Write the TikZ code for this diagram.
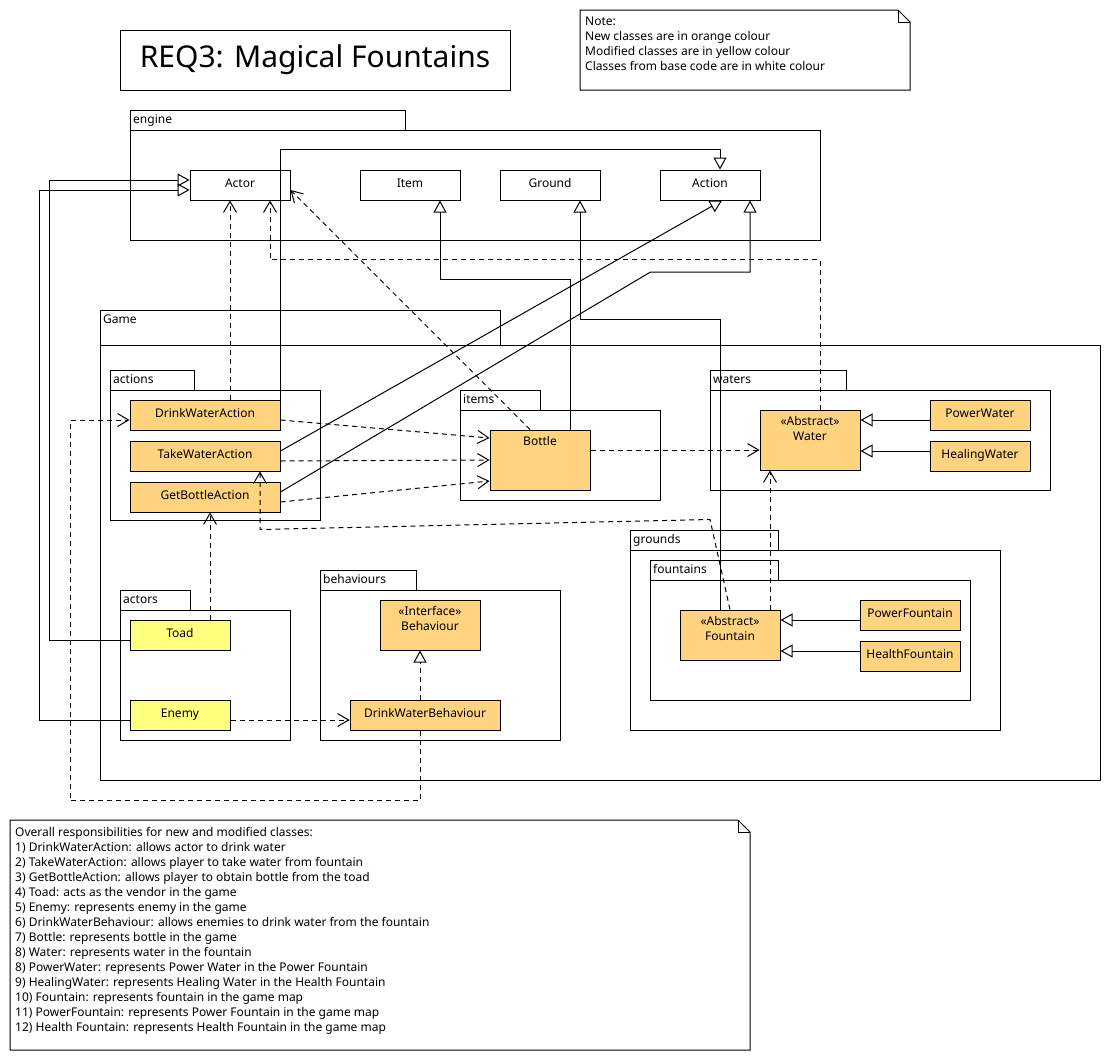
\documentclass[tikz,border=0pt]{standalone}
\usepackage{fontspec}
\setmainfont{Noto Sans}
\usepackage{xcolor}
\usetikzlibrary{arrows.meta, positioning, calc}
\definecolor{neworange}{HTML}{FFD37F}
\definecolor{modyellow}{HTML}{FFFF80}
\tikzset{
  classbox/.style={
    rectangle, draw=black, line width=1pt, fill=white,
    minimum width=100pt, minimum height=30pt, inner sep=0pt,
    text height=9pt, text depth=4pt,
    align=center, font=\fontsize{12}{15}\selectfont
  },
  newclass/.style={classbox, fill=neworange},
  modclass/.style={classbox, fill=modyellow},
  toptext/.style={anchor=north, yshift=-7pt, inner sep=0pt, align=center,
    font=\fontsize{12}{15}\selectfont},
  pkglabel/.style={anchor=west, xshift=3pt, yshift=-11pt, inner sep=0pt,
    text height=8pt, text depth=2.5pt, font=\fontsize{12}{15}\selectfont},
  pkgtab/.style={rectangle, draw=black, line width=1pt, anchor=north west,
    inner sep=0pt, minimum height=20pt},
  pkgbody/.style={rectangle, draw=black, line width=1pt, anchor=north west,
    inner sep=0pt},
  notetext/.style={anchor=north west, inner sep=0pt, align=left,
    font=\fontsize{12}{15}\selectfont},
  notebox/.style={draw=black, line width=1pt},
  dep/.style={line width=1pt, dash pattern=on 5pt off 4pt,
    -{Straight Barb[length=11pt, width=13pt, line width=1pt]}},
  gen/.style={line width=1pt,
    -{Triangle[open, length=12pt, width=13pt, line width=1pt]}},
  real/.style={gen, dash pattern=on 5pt off 4pt}
}
\begin{document}
\begin{tikzpicture}[x=1pt, y=-1pt]
  \useasboundingbox (0,0) rectangle (1110,1060);

  % title and legend
  \node[rectangle, draw=black, line width=1pt, minimum width=390pt, minimum height=60pt,
    font=\fontsize{30}{34}\selectfont] (title) at (315,60) {REQ3: Magical Fountains};
  \draw[notebox] (580,10) -- (898,10) -- (910,22) -- (910,90) -- (580,90) -- cycle;
  \draw[notebox] (898,10) -- (898,22) -- (910,22);
  \node[notetext] (legend) at (585,17) {Note:\\New classes are in orange colour\\
    Modified classes are in yellow colour\\Classes from base code are in white colour};

  % packages
  \node[pkgtab, minimum width=275pt, label={[pkglabel]north west:engine}] (engineTab) at (130,110) {};
  \node[pkgbody, minimum width=690pt, minimum height=110pt] (engineBody) at (130,130) {};
  \node[pkgtab, minimum width=400pt, minimum height=35pt, label={[pkglabel]north west:Game}] (gameTab) at (100,310) {};
  \node[pkgbody, minimum width=1000pt, minimum height=435pt] (gameBody) at (100,345) {};
  \node[pkgtab, minimum width=84pt, label={[pkglabel]north west:actions}] (actionsTab) at (110,370) {};
  \node[pkgbody, minimum width=210pt, minimum height=130pt] (actionsBody) at (110,390) {};
  \node[pkgtab, minimum width=80pt, label={[pkglabel]north west:items}] (itemsTab) at (460,390) {};
  \node[pkgbody, minimum width=200pt, minimum height=90pt] (itemsBody) at (460,410) {};
  \node[pkgtab, minimum width=136pt, label={[pkglabel]north west:waters}] (watersTab) at (710,370) {};
  \node[pkgbody, minimum width=340pt, minimum height=100pt] (watersBody) at (710,390) {};
  \node[pkgtab, minimum width=148pt, label={[pkglabel]north west:grounds}] (groundsTab) at (630,530) {};
  \node[pkgbody, minimum width=370pt, minimum height=180pt] (groundsBody) at (630,550) {};
  \node[pkgtab, minimum width=128pt, label={[pkglabel]north west:fountains}] (fountainsTab) at (650,560) {};
  \node[pkgbody, minimum width=320pt, minimum height=120pt] (fountainsBody) at (650,580) {};
  \node[pkgtab, minimum width=70pt, label={[pkglabel]north west:actors}] (actorsTab) at (120,590) {};
  \node[pkgbody, minimum width=170pt, minimum height=130pt] (actorsBody) at (120,610) {};
  \node[pkgtab, minimum width=96pt, label={[pkglabel]north west:behaviours}] (behavioursTab) at (320,570) {};
  \node[pkgbody, minimum width=240pt, minimum height=150pt] (behavioursBody) at (320,590) {};

  % engine classes
  \node[classbox] (actor) at (240,185) {Actor};
  \node[classbox] (item) at (410,185) {Item};
  \node[classbox] (ground) at (550,185) {Ground};
  \node[classbox] (action) at (710,185) {Action};

  % game classes
  \node[newclass, minimum width=150pt] (drinkAct) at (205,415) {DrinkWaterAction};
  \node[newclass, minimum width=150pt, below=10pt of drinkAct] (takeAct) {TakeWaterAction};
  \node[newclass, minimum width=150pt, below=10pt of takeAct] (getBottle) {GetBottleAction};
  \node[newclass, minimum height=60pt, label={[toptext]north:Bottle}] (bottle) at (540,460) {};
  \node[newclass, minimum height=60pt, label={[toptext]north:«Abstract»\\Water}] (water) at (810,440) {};
  \node[newclass] (powerWater) at (980,415) {PowerWater};
  \node[newclass, below=10pt of powerWater] (healingWater) {HealingWater};
  \node[newclass, minimum height=50pt, label={[toptext]north:«Abstract»\\Fountain}] (fountain) at (730,635) {};
  \node[newclass] (powerFountain) at (910,615) {PowerFountain};
  \node[newclass, below=10pt of powerFountain] (healthFountain) {HealthFountain};
  \node[modclass] (toad) at (180,635) {Toad};
  \node[modclass] (enemy) at (180,715) {Enemy};
  \node[newclass, minimum height=50pt, label={[toptext]north:«Interface»\\Behaviour}] (behaviour) at (430,625) {};
  \node[newclass, minimum width=150pt] (drinkBeh) at (425,715) {DrinkWaterBehaviour};

  % helper points
  \coordinate (toadOut) at ($(toad.west)+(0,5)$);
  \coordinate (enemyOut) at ($(enemy.west)+(0,5)$);
  \coordinate (pwOut) at ($(powerWater.west)+(0,5)$);
  \coordinate (hwOut) at ($(healingWater.west)+(0,-5)$);
  \coordinate (pfOut) at ($(powerFountain.west)+(0,5)$);
  \coordinate (hfOut) at ($(healthFountain.west)+(0,-5)$);

  % generalisations
  \draw[gen] (toadOut) -- ++(-80,0) |- ($(actor.west)+(0,-5)$);
  \draw[gen] (enemyOut) -- ++(-90,0) |- ($(actor.west)+(0,5)$);
  \draw[gen] (drinkAct.north east) -- ++(0,-250) -| ($(action.north)+(10,0)$);
  \draw[gen] ($(takeAct.east)+(0,-5)$) -- ($(action.south)+(12,0)$);
  \draw[gen] ($(getBottle.east)+(0,-5)$) -- ++(370,-220) -| ($(action.south)+(40,0)$);
  \draw[gen] ($(bottle.north)+(30,0)$) -- ++(0,-150) -| ($(item.south)+(30,0)$);
  \draw[gen] ($(fountain.north)+(-10,0)$) -- ++(0,-290) -| ($(ground.south)+(30,0)$);
  \draw[gen] (pwOut) -- (pwOut -| water.east);
  \draw[gen] (hwOut) -- (hwOut -| water.east);
  \draw[gen] (pfOut) -- (pfOut -| fountain.east);
  \draw[gen] (hfOut) -- (hfOut -| fountain.east);
  \draw[real] ($(drinkBeh.north)+(-5,0)$) -- ($(behaviour.south)+(-10,0)$);

  % dependencies
  \draw[dep] ($(drinkAct.north)+(25,0)$) -- ($(actor.south)+(-10,0)$);
  \draw[dep] ($(water.north)+(10,0)$) -- ++(0,-150) -| ($(actor.south)+(30,0)$);
  \draw[dep] ($(bottle.north)+(-10,0)$) -- ($(actor.east)+(0,5)$);
  \draw[dep] ($(drinkAct.east)+(0,5)$) -- ($(bottle.west)+(0,-22)$);
  \draw[dep] ($(takeAct.east)+(0,5)$) -- ($(bottle.west)+(0,0)$);
  \draw[dep] ($(getBottle.east)+(0,5)$) -- ($(bottle.west)+(0,21)$);
  \draw[dep] ($(bottle.east)+(0,-10)$) -- ($(water.west)+(0,10)$);
  \draw[dep] ($(fountain.north)+(40,0)$) -- ($(water.south)+(-40,0)$);
  \draw[dep] (fountain.north) -- ++(-20,-90) -- ++(-450,10) -- ($(takeAct.south)+(55,0)$);
  \draw[dep] ($(toad.north)+(30,0)$) -- ($(getBottle.south)+(5,0)$);
  \draw[dep] ($(enemy.east)+(0,5)$) -- ($(drinkBeh.west)+(0,5)$);
  \draw[dep] ($(drinkBeh.south)+(-5,0)$) -- ++(0,70) -- ++(-350,0) |- ($(drinkAct.west)+(0,5)$);

  % responsibilities
  \draw[notebox] (10,820) -- (738,820) -- (750,832) -- (750,1050) -- (10,1050) -- cycle;
  \draw[notebox] (738,820) -- (738,832) -- (750,832);
  \node[notetext] (duties) at (15,827) {Overall responsibilities for new and modified classes:\\
    1) DrinkWaterAction: allows actor to drink water\\
    2) TakeWaterAction: allows player to take water from fountain\\
    3) GetBottleAction: allows player to obtain bottle from the toad\\
    4) Toad: acts as the vendor in the game\\
    5) Enemy: represents enemy in the game\\
    6) DrinkWaterBehaviour: allows enemies to drink water from the fountain\\
    7) Bottle: represents bottle in the game\\
    8) Water: represents water in the fountain\\
    8) PowerWater: represents Power Water in the Power Fountain\\
    9) HealingWater: represents Healing Water in the Health Fountain\\
    10) Fountain: represents fountain in the game map\\
    11) PowerFountain: represents Power Fountain in the game map\\
    12) Health Fountain: represents Health Fountain in the game map};
\end{tikzpicture}
\end{document}
